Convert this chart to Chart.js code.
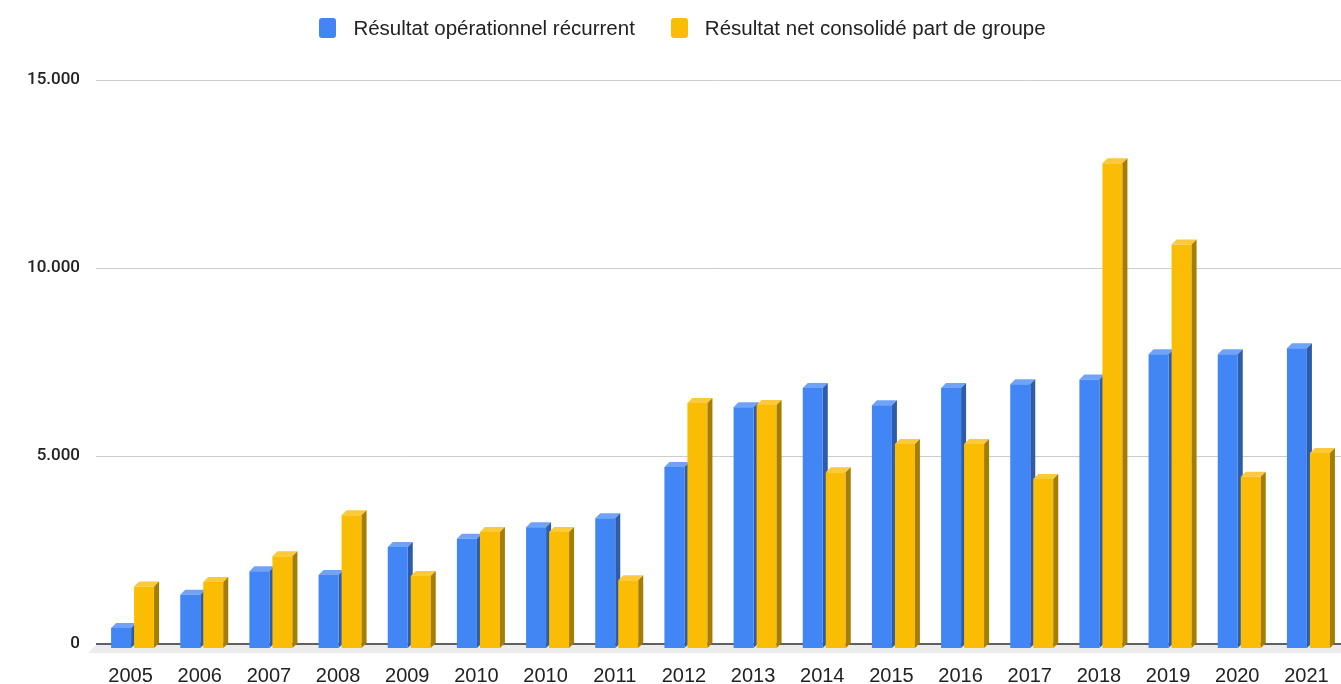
<!DOCTYPE html>
<html>
<head>
<meta charset="utf-8">
<script src="https://cdn.jsdelivr.net/npm/chart.js@4"></script>
<style>
  html, body { margin: 0; padding: 0; background: #fff; overflow: hidden; }
  #wrap { position: relative; width: 1341px; height: 684px; }
  #legend {
    position: absolute; top: 16px; left: 0; width: 1341px;
    display: flex; justify-content: center; padding-left: 24px; box-sizing: border-box;
    font-family: "Liberation Sans", Arial, sans-serif; font-size: 20.5px; color: #222;
  }
  .item { display: flex; align-items: center; margin: 0 18px; }
  .box { width: 17px; height: 20px; border-radius: 3px; margin-right: 17px; }
</style>
</head>
<body>
<div id="wrap">
  <div id="legend"></div>
  <canvas id="bar-chart" width="1341" height="684"></canvas>
</div>
<script>
// annees (2010 apparait deux fois dans l'original)
const annees = ["2005","2006","2007","2008","2009","2010","2010","2011","2012","2013","2014","2015","2016","2017","2018","2019","2020","2021"];
const recurrent = [560,1440,2070,1970,2710,2930,3240,3480,4840,6430,6940,6480,6940,7040,7170,7840,7840,8000];
const netGroupe = [1660,1780,2470,3560,1940,3110,3110,1830,6540,6490,4700,5450,5450,4520,12920,10760,4580,5210];
const series = ["Résultat opérationnel récurrent", "Résultat net consolidé part de groupe"];
const yTicks = [0, 5000, 10000, 15000];

const couleurs = ["#4285F4", "#FBBC04"];
const faces = [
  { top: "#6FA3F8", side: "#2D5CA8" },
  { top: "#FCC93A", side: "#A67D03" }
];
const depth = 5, dx = 2, dy = 5;

// legende html
const leg = document.getElementById("legend");
series.forEach((s, i) => {
  leg.innerHTML += '<div class="item"><div class="box" style="background:' + couleurs[i] + '"></div><span>' + s + '</span></div>';
});

function fmt(v) {
  return String(v).replace(/\B(?=(\d{3})+(?!\d))/g, ".");
}

function drawFaces(ctx, meta, c) {
  meta.data.forEach(bar => {
    const p = bar.getProps(["x", "y", "base", "width"], true);
    const l = p.x - p.width / 2, r = p.x + p.width / 2;
    ctx.fillStyle = c.top;
    ctx.beginPath();
    ctx.moveTo(l, p.y); ctx.lineTo(r, p.y); ctx.lineTo(r + depth, p.y - depth); ctx.lineTo(l + depth, p.y - depth);
    ctx.closePath(); ctx.fill();
    ctx.fillStyle = c.side;
    ctx.beginPath();
    ctx.moveTo(r, p.y); ctx.lineTo(r + depth, p.y - depth); ctx.lineTo(r + depth, p.base - depth); ctx.lineTo(r, p.base);
    ctx.closePath(); ctx.fill();
  });
}

// faux 3d facon google sheets
const bars3d = {
  id: "bars3d",
  beforeDatasetsDraw(chart) {
    const ctx = chart.ctx, a = chart.chartArea;
    ctx.save();
    ctx.fillStyle = "#ececec";
    ctx.beginPath();
    ctx.moveTo(a.left, a.bottom + 1); ctx.lineTo(a.right, a.bottom + 1);
    ctx.lineTo(a.right, a.bottom + 9); ctx.lineTo(a.left - 8, a.bottom + 9);
    ctx.closePath(); ctx.fill();
    // faces du bleu avant le jaune (le bleu est dessine en dernier)
    ctx.translate(dx, dy);
    drawFaces(ctx, chart.getDatasetMeta(0), faces[0]);
    ctx.restore();
  },
  beforeDatasetDraw(chart) {
    chart.ctx.save();
    chart.ctx.translate(dx, dy);
  },
  afterDatasetDraw(chart, args) {
    if (args.index === 1) drawFaces(chart.ctx, args.meta, faces[1]);
    chart.ctx.restore();
  }
};

new Chart(document.getElementById("bar-chart"), {
  type: "bar",
  data: {
    labels: annees,
    datasets: [
      { label: series[0], data: recurrent, backgroundColor: couleurs[0], clip: false,
        categoryPercentage: 0.665, barPercentage: 0.87 },
      { label: series[1], data: netGroupe, backgroundColor: couleurs[1], clip: false,
        categoryPercentage: 0.665, barPercentage: 0.87 }
    ]
  },
  options: {
    responsive: false,
    animation: false,
    layout: { padding: { top: 80, left: 0, right: 0, bottom: 0 } },
    plugins: { legend: { display: false }, tooltip: { enabled: false } },
    scales: {
      x: {
        grid: { display: false, drawTicks: false },
        border: { display: false },
        ticks: { padding: 20, color: "#222", autoSkip: false, maxRotation: 0,
                 font: { family: "Liberation Sans", size: 20 } },
        afterFit(s) { s.height = 40; s.paddingLeft = 0; s.paddingRight = 0; }
      },
      y: {
        min: 0, max: 15000,
        afterBuildTicks(s) { s.ticks = yTicks.map(v => ({ value: v })); },
        ticks: { padding: 16, color: "#222", callback: v => fmt(v),
                 font: { family: "Roboto", size: 17, weight: "500" } },
        grid: {
          drawTicks: false,
          color: c => c.tick && c.tick.value === 0 ? "#5f5f5f" : "#cccccc",
          lineWidth: c => c.tick && c.tick.value === 0 ? 2 : 1
        },
        border: { display: false },
        afterFit(s) { s.width = 96; }
      }
    }
  },
  plugins: [bars3d]
});
</script>
</body>
</html>
